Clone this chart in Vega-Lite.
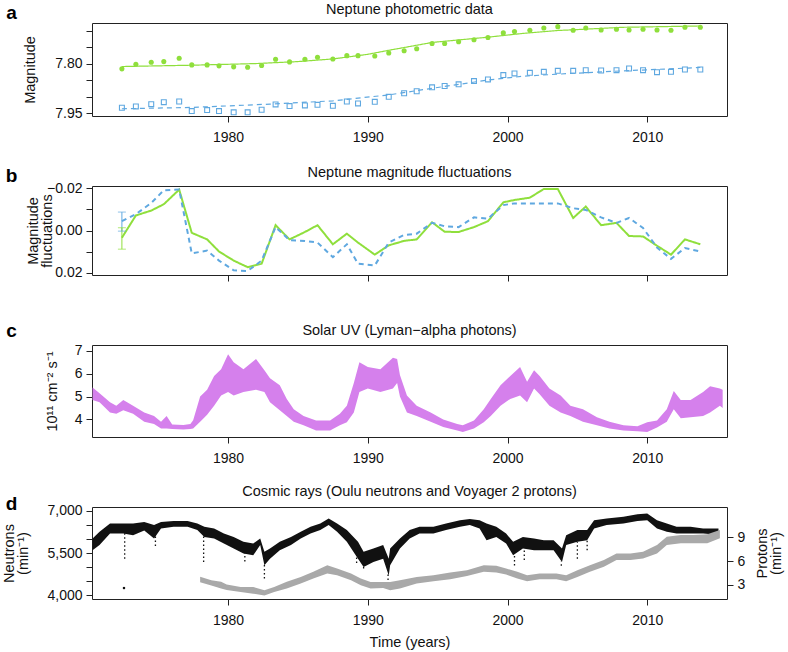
{
  "$schema": "https://vega.github.io/schema/vega-lite/v6.json",
  "autosize": {"type": "none"},
  "padding": {"left": 92, "top": 23, "right": 696, "bottom": 629},
  "background": "white",
  "config": {
    "font": "Liberation Sans",
    "view": {"stroke": "#222", "strokeWidth": 1},
    "axis": {
      "domain": false, "grid": false, "tickColor": "#222", "tickSize": 6,
      "labelFontSize": 14, "labelColor": "#111", "labelPadding": 4,
      "titleFontSize": 14.5, "titleFontWeight": "normal", "titleColor": "#111"
    },
    "axisX": {"labelPadding": 8}
  },
  "datasets": {
    "phot": [
      {"yr": 1972.4, "s": "g", "mag": 7.815, "fl": 0.0034}, {"yr": 1973.4, "s": "g", "mag": 7.801, "fl": -0.0071},
      {"yr": 1974.5, "s": "g", "mag": 7.795, "fl": -0.0094}, {"yr": 1975.4, "s": "g", "mag": 7.793, "fl": -0.0124},
      {"yr": 1976.5, "s": "g", "mag": 7.783, "fl": -0.0193}, {"yr": 1977.4, "s": "g", "mag": 7.803, "fl": 0.0011},
      {"yr": 1978.5, "s": "g", "mag": 7.803, "fl": 0.0042}, {"yr": 1979.35, "s": "g", "mag": 7.806, "fl": 0.0099},
      {"yr": 1980.4, "s": "g", "mag": 7.809, "fl": 0.0142}, {"yr": 1981.4, "s": "g", "mag": 7.810, "fl": 0.0173},
      {"yr": 1982.4, "s": "g", "mag": 7.805, "fl": 0.0157}, {"yr": 1983.4, "s": "g", "mag": 7.786, "fl": -0.0025},
      {"yr": 1984.4, "s": "g", "mag": 7.794, "fl": 0.0042}, {"yr": 1985.5, "s": "g", "mag": 7.786, "fl": 0.0007},
      {"yr": 1986.4, "s": "g", "mag": 7.780, "fl": -0.0025}, {"yr": 1987.5, "s": "g", "mag": 7.785, "fl": 0.0065},
      {"yr": 1988.5, "s": "g", "mag": 7.775, "fl": 0.0015}, {"yr": 1989.3, "s": "g", "mag": 7.775, "fl": 0.0057},
      {"yr": 1990.5, "s": "g", "mag": 7.776, "fl": 0.0114}, {"yr": 1991.5, "s": "g", "mag": 7.767, "fl": 0.007},
      {"yr": 1992.6, "s": "g", "mag": 7.760, "fl": 0.0049}, {"yr": 1993.5, "s": "g", "mag": 7.754, "fl": 0.0042},
      {"yr": 1994.6, "s": "g", "mag": 7.738, "fl": -0.0039}, {"yr": 1995.5, "s": "g", "mag": 7.738, "fl": 0.0006},
      {"yr": 1996.5, "s": "g", "mag": 7.733, "fl": 0.0007}, {"yr": 1997.6, "s": "g", "mag": 7.727, "fl": -0.0016},
      {"yr": 1998.6, "s": "g", "mag": 7.720, "fl": -0.0044}, {"yr": 1999.7, "s": "g", "mag": 7.706, "fl": -0.0133},
      {"yr": 2000.5, "s": "g", "mag": 7.702, "fl": -0.0144}, {"yr": 2001.6, "s": "g", "mag": 7.698, "fl": -0.0155},
      {"yr": 2002.6, "s": "g", "mag": 7.691, "fl": -0.0196}, {"yr": 2003.6, "s": "g", "mag": 7.687, "fl": -0.0196},
      {"yr": 2004.7, "s": "g", "mag": 7.698, "fl": -0.0059}, {"yr": 2005.6, "s": "g", "mag": 7.691, "fl": -0.0113},
      {"yr": 2006.7, "s": "g", "mag": 7.697, "fl": -0.0025}, {"yr": 2007.8, "s": "g", "mag": 7.695, "fl": -0.0036},
      {"yr": 2008.7, "s": "g", "mag": 7.697, "fl": 0.0026}, {"yr": 2009.7, "s": "g", "mag": 7.695, "fl": 0.0028},
      {"yr": 2010.7, "s": "g", "mag": 7.697, "fl": 0.0072}, {"yr": 2011.7, "s": "g", "mag": 7.698, "fl": 0.0114},
      {"yr": 2012.7, "s": "g", "mag": 7.689, "fl": 0.0042}, {"yr": 2013.8, "s": "g", "mag": 7.689, "fl": 0.0065},
      {"yr": 1972.4, "s": "b", "mag": 7.933, "fl": -0.0044}, {"yr": 1973.4, "s": "b", "mag": 7.929, "fl": -0.0077},
      {"yr": 1974.5, "s": "b", "mag": 7.922, "fl": -0.013}, {"yr": 1975.4, "s": "b", "mag": 7.916, "fl": -0.019},
      {"yr": 1976.5, "s": "b", "mag": 7.914, "fl": -0.0193}, {"yr": 1977.4, "s": "b", "mag": 7.943, "fl": 0.0108},
      {"yr": 1978.5, "s": "b", "mag": 7.940, "fl": 0.0095}, {"yr": 1979.35, "s": "b", "mag": 7.943, "fl": 0.0142},
      {"yr": 1980.4, "s": "b", "mag": 7.947, "fl": 0.0188}, {"yr": 1981.4, "s": "b", "mag": 7.947, "fl": 0.0191},
      {"yr": 1982.4, "s": "b", "mag": 7.939, "fl": 0.0142}, {"yr": 1983.4, "s": "b", "mag": 7.923, "fl": -0.0016},
      {"yr": 1984.4, "s": "b", "mag": 7.928, "fl": 0.0046}, {"yr": 1985.5, "s": "b", "mag": 7.926, "fl": 0.0049},
      {"yr": 1986.4, "s": "b", "mag": 7.924, "fl": 0.0057}, {"yr": 1987.5, "s": "b", "mag": 7.927, "fl": 0.0126},
      {"yr": 1988.5, "s": "b", "mag": 7.914, "fl": 0.0065}, {"yr": 1989.3, "s": "b", "mag": 7.920, "fl": 0.0157},
      {"yr": 1990.5, "s": "b", "mag": 7.915, "fl": 0.0165}, {"yr": 1991.5, "s": "b", "mag": 7.900, "fl": 0.0057},
      {"yr": 1992.6, "s": "b", "mag": 7.889, "fl": 0.0021}, {"yr": 1993.5, "s": "b", "mag": 7.883, "fl": 0.0015},
      {"yr": 1994.6, "s": "b", "mag": 7.871, "fl": -0.0036}, {"yr": 1995.5, "s": "b", "mag": 7.867, "fl": -0.002},
      {"yr": 1996.5, "s": "b", "mag": 7.862, "fl": -0.0016}, {"yr": 1997.6, "s": "b", "mag": 7.852, "fl": -0.0062},
      {"yr": 1998.6, "s": "b", "mag": 7.847, "fl": -0.0056}, {"yr": 1999.7, "s": "b", "mag": 7.834, "fl": -0.012},
      {"yr": 2000.5, "s": "b", "mag": 7.829, "fl": -0.0128}, {"yr": 2001.6, "s": "b", "mag": 7.827, "fl": -0.0128},
      {"yr": 2002.6, "s": "b", "mag": 7.824, "fl": -0.0128}, {"yr": 2003.6, "s": "b", "mag": 7.821, "fl": -0.0128},
      {"yr": 2004.7, "s": "b", "mag": 7.821, "fl": -0.0105}, {"yr": 2005.6, "s": "b", "mag": 7.819, "fl": -0.0097},
      {"yr": 2006.7, "s": "b", "mag": 7.820, "fl": -0.0062}, {"yr": 2007.8, "s": "b", "mag": 7.819, "fl": -0.0036},
      {"yr": 2008.7, "s": "b", "mag": 7.814, "fl": -0.0059}, {"yr": 2009.7, "s": "b", "mag": 7.819, "fl": -0.0012},
      {"yr": 2010.7, "s": "b", "mag": 7.825, "fl": 0.008}, {"yr": 2011.7, "s": "b", "mag": 7.824, "fl": 0.0134},
      {"yr": 2012.7, "s": "b", "mag": 7.817, "fl": 0.0083}, {"yr": 2013.8, "s": "b", "mag": 7.817, "fl": 0.0099}
    ],
    "fit": [
      {"yr": 1972.4, "s": "g", "m": 7.808}, {"yr": 1977.4, "s": "g", "m": 7.804}, {"yr": 1982.0, "s": "g", "m": 7.799},
      {"yr": 1985.0, "s": "g", "m": 7.793}, {"yr": 1987.5, "s": "g", "m": 7.785}, {"yr": 1990.0, "s": "g", "m": 7.771},
      {"yr": 1991.6, "s": "g", "m": 7.758}, {"yr": 1994.6, "s": "g", "m": 7.735}, {"yr": 1998.6, "s": "g", "m": 7.719},
      {"yr": 2001.0, "s": "g", "m": 7.708}, {"yr": 2003.5, "s": "g", "m": 7.699}, {"yr": 2008.3, "s": "g", "m": 7.689},
      {"yr": 2013.8, "s": "g", "m": 7.685},
      {"yr": 1972.4, "s": "b", "m": 7.936}, {"yr": 1977.4, "s": "b", "m": 7.932}, {"yr": 1983.0, "s": "b", "m": 7.922},
      {"yr": 1987.5, "s": "b", "m": 7.912}, {"yr": 1991.5, "s": "b", "m": 7.894}, {"yr": 1994.6, "s": "b", "m": 7.874},
      {"yr": 1998.6, "s": "b", "m": 7.849}, {"yr": 2001.2, "s": "b", "m": 7.837}, {"yr": 2004.5, "s": "b", "m": 7.829},
      {"yr": 2008.3, "s": "b", "m": 7.821}, {"yr": 2013.8, "s": "b", "m": 7.811}
    ],
    "errs": [
      {"yr": 1972.4, "s": "b", "lo": -0.0087, "hi": 0.0003},
      {"yr": 1972.4, "s": "g", "lo": -0.0013, "hi": 0.0088}
    ],
    "uv": [
      {"yr": 1970.3, "lo": 4.85, "hi": 5.4}, {"yr": 1970.8, "lo": 4.75, "hi": 5.15}, {"yr": 1971.55, "lo": 4.3, "hi": 4.75},
      {"yr": 1972.0, "lo": 4.25, "hi": 4.6}, {"yr": 1972.5, "lo": 4.4, "hi": 4.85}, {"yr": 1973.2, "lo": 4.25, "hi": 4.6},
      {"yr": 1974.0, "lo": 3.9, "hi": 4.3}, {"yr": 1974.7, "lo": 3.8, "hi": 4.15}, {"yr": 1975.2, "lo": 3.6, "hi": 3.9},
      {"yr": 1975.6, "lo": 3.6, "hi": 4.15}, {"yr": 1976.0, "lo": 3.58, "hi": 3.78}, {"yr": 1976.8, "lo": 3.56, "hi": 3.76},
      {"yr": 1977.3, "lo": 3.58, "hi": 3.8}, {"yr": 1977.5, "lo": 3.6, "hi": 3.96}, {"yr": 1978.0, "lo": 3.9, "hi": 5.0},
      {"yr": 1978.5, "lo": 4.2, "hi": 5.3}, {"yr": 1979.0, "lo": 4.6, "hi": 5.9}, {"yr": 1979.5, "lo": 5.05, "hi": 6.2},
      {"yr": 1980.0, "lo": 5.2, "hi": 6.85}, {"yr": 1980.4, "lo": 5.05, "hi": 6.5}, {"yr": 1981.1, "lo": 5.2, "hi": 6.2},
      {"yr": 1982.0, "lo": 5.3, "hi": 6.65}, {"yr": 1982.6, "lo": 5.2, "hi": 6.15}, {"yr": 1983.0, "lo": 4.75, "hi": 5.8},
      {"yr": 1983.7, "lo": 4.4, "hi": 5.5}, {"yr": 1984.2, "lo": 4.15, "hi": 4.9}, {"yr": 1984.7, "lo": 3.9, "hi": 4.45},
      {"yr": 1985.4, "lo": 3.75, "hi": 4.15}, {"yr": 1986.3, "lo": 3.52, "hi": 3.95}, {"yr": 1987.3, "lo": 3.52, "hi": 3.95},
      {"yr": 1988.0, "lo": 3.75, "hi": 4.25}, {"yr": 1988.5, "lo": 3.88, "hi": 4.6}, {"yr": 1989.0, "lo": 4.3, "hi": 5.6},
      {"yr": 1989.4, "lo": 5.2, "hi": 6.5}, {"yr": 1990.0, "lo": 5.35, "hi": 6.3}, {"yr": 1990.9, "lo": 5.2, "hi": 6.2},
      {"yr": 1991.8, "lo": 5.35, "hi": 6.7}, {"yr": 1992.1, "lo": 5.6, "hi": 6.65}, {"yr": 1992.3, "lo": 5.0, "hi": 5.95},
      {"yr": 1992.8, "lo": 4.3, "hi": 5.05}, {"yr": 1993.5, "lo": 4.15, "hi": 4.6}, {"yr": 1994.5, "lo": 3.9, "hi": 4.3},
      {"yr": 1995.4, "lo": 3.67, "hi": 4.0}, {"yr": 1996.4, "lo": 3.52, "hi": 3.8}, {"yr": 1996.8, "lo": 3.45, "hi": 3.75},
      {"yr": 1997.6, "lo": 3.6, "hi": 3.95}, {"yr": 1998.3, "lo": 3.88, "hi": 4.45}, {"yr": 1998.8, "lo": 4.15, "hi": 4.9},
      {"yr": 1999.5, "lo": 4.6, "hi": 5.5}, {"yr": 2000.2, "lo": 4.9, "hi": 5.9}, {"yr": 2000.9, "lo": 5.05, "hi": 6.3},
      {"yr": 2001.4, "lo": 4.75, "hi": 5.65}, {"yr": 2001.9, "lo": 5.35, "hi": 6.15}, {"yr": 2002.3, "lo": 5.1, "hi": 5.9},
      {"yr": 2003.0, "lo": 4.6, "hi": 5.35}, {"yr": 2003.8, "lo": 4.3, "hi": 5.05}, {"yr": 2004.5, "lo": 4.15, "hi": 4.6},
      {"yr": 2005.4, "lo": 3.9, "hi": 4.45}, {"yr": 2006.4, "lo": 3.75, "hi": 4.1}, {"yr": 2007.3, "lo": 3.6, "hi": 3.9},
      {"yr": 2008.3, "lo": 3.52, "hi": 3.75}, {"yr": 2009.3, "lo": 3.48, "hi": 3.7}, {"yr": 2010.0, "lo": 3.45, "hi": 3.88},
      {"yr": 2010.7, "lo": 3.65, "hi": 3.95}, {"yr": 2011.4, "lo": 3.9, "hi": 4.45}, {"yr": 2011.9, "lo": 4.45, "hi": 5.25},
      {"yr": 2012.4, "lo": 4.05, "hi": 4.85}, {"yr": 2013.1, "lo": 4.1, "hi": 4.85}, {"yr": 2014.0, "lo": 4.15, "hi": 5.2},
      {"yr": 2014.5, "lo": 4.3, "hi": 5.45}, {"yr": 2015.2, "lo": 4.6, "hi": 5.35}, {"yr": 2015.4, "lo": 4.5, "hi": 5.3}
    ],
    "neut": [
      {"yr": 1970.3, "lo": 5600, "hi": 6010}, {"yr": 1970.8, "lo": 5780, "hi": 6250}, {"yr": 1971.55, "lo": 6190, "hi": 6545},
      {"yr": 1972.5, "lo": 6190, "hi": 6545}, {"yr": 1973.2, "lo": 6130, "hi": 6545}, {"yr": 1974.0, "lo": 6300, "hi": 6600},
      {"yr": 1974.7, "lo": 6010, "hi": 6490}, {"yr": 1975.2, "lo": 6370, "hi": 6600}, {"yr": 1976.1, "lo": 6430, "hi": 6630},
      {"yr": 1977.1, "lo": 6430, "hi": 6630}, {"yr": 1977.8, "lo": 6310, "hi": 6545}, {"yr": 1978.3, "lo": 6070, "hi": 6430},
      {"yr": 1979.0, "lo": 6010, "hi": 6370}, {"yr": 1979.7, "lo": 5835, "hi": 6190}, {"yr": 1980.4, "lo": 5660, "hi": 6070},
      {"yr": 1981.1, "lo": 5480, "hi": 5895}, {"yr": 1981.8, "lo": 5420, "hi": 5835}, {"yr": 1982.3, "lo": 5780, "hi": 6010},
      {"yr": 1982.6, "lo": 5065, "hi": 5540}, {"yr": 1983.0, "lo": 5300, "hi": 5660}, {"yr": 1983.7, "lo": 5600, "hi": 5895},
      {"yr": 1984.5, "lo": 5780, "hi": 6070}, {"yr": 1985.2, "lo": 6010, "hi": 6250}, {"yr": 1985.9, "lo": 6190, "hi": 6430},
      {"yr": 1986.6, "lo": 6310, "hi": 6545}, {"yr": 1987.2, "lo": 6490, "hi": 6720}, {"yr": 1987.8, "lo": 6250, "hi": 6545},
      {"yr": 1988.5, "lo": 5895, "hi": 6310}, {"yr": 1989.3, "lo": 5300, "hi": 5895}, {"yr": 1989.7, "lo": 5005, "hi": 5540},
      {"yr": 1990.4, "lo": 5185, "hi": 5660}, {"yr": 1991.1, "lo": 5300, "hi": 5780}, {"yr": 1991.5, "lo": 4700, "hi": 5300},
      {"yr": 1991.6, "lo": 5065, "hi": 5660}, {"yr": 1992.3, "lo": 5660, "hi": 6010}, {"yr": 1993.0, "lo": 6010, "hi": 6310},
      {"yr": 1993.7, "lo": 6190, "hi": 6430}, {"yr": 1994.7, "lo": 6190, "hi": 6430}, {"yr": 1995.6, "lo": 6310, "hi": 6545},
      {"yr": 1996.6, "lo": 6430, "hi": 6660}, {"yr": 1997.3, "lo": 6490, "hi": 6700}, {"yr": 1998.0, "lo": 6370, "hi": 6660},
      {"yr": 1998.5, "lo": 5950, "hi": 6545}, {"yr": 1999.2, "lo": 6070, "hi": 6430}, {"yr": 1999.9, "lo": 5835, "hi": 6190},
      {"yr": 2000.4, "lo": 5420, "hi": 5895}, {"yr": 2001.1, "lo": 5660, "hi": 6070}, {"yr": 2001.9, "lo": 5600, "hi": 6010},
      {"yr": 2002.6, "lo": 5600, "hi": 5950}, {"yr": 2003.3, "lo": 5600, "hi": 5950}, {"yr": 2003.9, "lo": 5185, "hi": 5660},
      {"yr": 2004.2, "lo": 5780, "hi": 6130}, {"yr": 2005.0, "lo": 5895, "hi": 6310}, {"yr": 2005.7, "lo": 5950, "hi": 6310},
      {"yr": 2006.2, "lo": 6370, "hi": 6660}, {"yr": 2007.1, "lo": 6490, "hi": 6720}, {"yr": 2008.3, "lo": 6545, "hi": 6780},
      {"yr": 2009.3, "lo": 6630, "hi": 6870}, {"yr": 2010.0, "lo": 6660, "hi": 6900}, {"yr": 2010.7, "lo": 6370, "hi": 6660},
      {"yr": 2011.4, "lo": 6250, "hi": 6545}, {"yr": 2012.1, "lo": 6190, "hi": 6430}, {"yr": 2013.1, "lo": 6190, "hi": 6430},
      {"yr": 2014.0, "lo": 6190, "hi": 6370}, {"yr": 2015.1, "lo": 6150, "hi": 6370}
    ],
    "ndip": [
      {"yr": 1972.6, "lo": 5300, "hi": 6200}, {"yr": 1974.8, "lo": 5750, "hi": 6100}, {"yr": 1978.25, "lo": 5180, "hi": 6100},
      {"yr": 1981.2, "lo": 5200, "hi": 5500}, {"yr": 1982.6, "lo": 4600, "hi": 5100}, {"yr": 1989.2, "lo": 5150, "hi": 5350},
      {"yr": 1989.7, "lo": 4950, "hi": 5100}, {"yr": 1991.45, "lo": 4400, "hi": 4750}, {"yr": 2000.5, "lo": 5060, "hi": 5450},
      {"yr": 2001.2, "lo": 5250, "hi": 5650}, {"yr": 2003.85, "lo": 5050, "hi": 5200}, {"yr": 2005.0, "lo": 5300, "hi": 5900},
      {"yr": 2005.7, "lo": 5600, "hi": 5950}
    ],
    "nout": [{"yr": 1972.55, "v": 4260}],
    "prot": [
      {"yr": 1978.0, "lo": 3.3, "hi": 4.0}, {"yr": 1978.8, "lo": 2.9, "hi": 3.55}, {"yr": 1979.5, "lo": 2.5, "hi": 3.35},
      {"yr": 1979.9, "lo": 2.3, "hi": 3.0}, {"yr": 1980.9, "lo": 2.06, "hi": 2.7}, {"yr": 1981.8, "lo": 1.85, "hi": 2.7},
      {"yr": 1982.6, "lo": 1.63, "hi": 2.27}, {"yr": 1983.3, "lo": 2.06, "hi": 2.7}, {"yr": 1984.2, "lo": 2.5, "hi": 3.35},
      {"yr": 1985.2, "lo": 3.13, "hi": 3.98}, {"yr": 1986.1, "lo": 3.77, "hi": 4.62}, {"yr": 1987.1, "lo": 4.41, "hi": 5.47},
      {"yr": 1987.8, "lo": 4.2, "hi": 5.05}, {"yr": 1988.8, "lo": 3.55, "hi": 4.41}, {"yr": 1989.5, "lo": 2.91, "hi": 3.77},
      {"yr": 1990.2, "lo": 2.5, "hi": 3.34}, {"yr": 1991.1, "lo": 2.57, "hi": 3.34}, {"yr": 1991.6, "lo": 2.27, "hi": 3.34},
      {"yr": 1992.3, "lo": 2.49, "hi": 3.55}, {"yr": 1993.5, "lo": 3.13, "hi": 3.98}, {"yr": 1994.7, "lo": 3.43, "hi": 4.2},
      {"yr": 1995.9, "lo": 3.68, "hi": 4.54}, {"yr": 1997.1, "lo": 4.11, "hi": 4.83}, {"yr": 1998.3, "lo": 4.62, "hi": 5.47},
      {"yr": 1999.2, "lo": 4.54, "hi": 5.39}, {"yr": 1999.9, "lo": 4.28, "hi": 5.05}, {"yr": 2000.7, "lo": 3.77, "hi": 4.62},
      {"yr": 2001.4, "lo": 3.43, "hi": 4.2}, {"yr": 2002.3, "lo": 3.68, "hi": 4.41}, {"yr": 2003.5, "lo": 3.68, "hi": 4.41},
      {"yr": 2004.2, "lo": 3.43, "hi": 4.2}, {"yr": 2005.0, "lo": 3.98, "hi": 4.83}, {"yr": 2005.9, "lo": 4.62, "hi": 5.47},
      {"yr": 2006.9, "lo": 5.26, "hi": 6.12}, {"yr": 2007.8, "lo": 6.12, "hi": 6.97}, {"yr": 2008.8, "lo": 6.12, "hi": 6.97},
      {"yr": 2009.7, "lo": 6.33, "hi": 7.18}, {"yr": 2010.7, "lo": 6.97, "hi": 8.03}, {"yr": 2011.4, "lo": 8.03, "hi": 9.09},
      {"yr": 2012.4, "lo": 8.25, "hi": 9.3}, {"yr": 2013.3, "lo": 8.25, "hi": 9.3}, {"yr": 2014.3, "lo": 8.25, "hi": 9.4},
      {"yr": 2015.2, "lo": 8.9, "hi": 9.95}
    ]
  },
  "vconcat": [
    {
      "width": 635, "height": 93,
      "data": {"name": "phot"},
      "encoding": {
        "x": {"field": "yr", "type": "quantitative", "scale": {"domain": [1970.26, 2015.71], "nice": false, "zero": false},
              "axis": {"values": [1980, 1990, 2000, 2010], "format": "d", "title": null}},
        "y": {"field": "mag", "type": "quantitative", "scale": {"domain": [7.676, 7.958], "reverse": true, "nice": false, "zero": false},
              "axis": {"values": [7.7, 7.75, 7.8, 7.85, 7.9, 7.95],
                       "labelExpr": "abs(datum.value - 7.8) < 0.001 || abs(datum.value - 7.95) < 0.001 ? format(datum.value, '.2f') : ''",
                       "title": "Magnitude", "titleX": -62, "titleY": 46.5, "titleBaseline": "middle", "titleAlign": "center", "titleAngle": 270}}
      },
      "layer": [
        {
          "data": {"name": "fit"},
          "mark": {"type": "line", "strokeWidth": 1.2},
          "encoding": {
            "y": {"field": "m", "type": "quantitative"},
            "color": {"field": "s", "type": "nominal", "scale": {"domain": ["g", "b"], "range": ["#8fdf3c", "#5fa8e0"]}, "legend": null},
            "strokeDash": {"field": "s", "type": "nominal", "scale": {"domain": ["g", "b"], "range": [[1, 0], [5, 4]]}, "legend": null}
          }
        },
        {
          "transform": [{"filter": "datum.s == 'g'"}],
          "mark": {"type": "circle", "size": 26, "color": "#8fdf3c", "opacity": 1}
        },
        {
          "transform": [{"filter": "datum.s == 'b'"}],
          "mark": {"type": "point", "shape": "square", "filled": false, "size": 24, "strokeWidth": 1.1, "color": "#5fa8e0", "opacity": 1}
        },
        {
          "data": {"values": [{"yr": 1964.5, "v": 7.6624, "t": "a"}]},
          "mark": {"type": "text", "fontSize": 19, "fontWeight": "bold", "align": "center", "baseline": "alphabetic", "color": "#000", "clip": false},
          "encoding": {"y": {"field": "v", "type": "quantitative"}, "text": {"field": "t", "type": "nominal"}}
        },
        {
          "data": {"values": [{"yr": 1992.985, "v": 7.6487, "t": "Neptune photometric data"}]},
          "mark": {"type": "text", "fontSize": 14.5, "align": "center", "baseline": "alphabetic", "color": "#111", "clip": false},
          "encoding": {"y": {"field": "v", "type": "quantitative"}, "text": {"field": "t", "type": "nominal"}}
        }
      ]
    },
    {
      "width": 635, "height": 89,
      "encoding": {
        "x": {"field": "yr", "type": "quantitative", "scale": {"domain": [1970.26, 2015.71], "nice": false, "zero": false},
              "axis": {"values": [1980, 1990, 2000, 2010], "labels": false, "title": null}},
        "y": {"field": "fl", "type": "quantitative", "scale": {"domain": [-0.021, 0.021], "reverse": true, "nice": false, "zero": false},
              "axis": {"values": [-0.02, -0.01, 0, 0.01, 0.02],
                       "labelExpr": "abs(datum.value) < 0.001 || abs(abs(datum.value) - 0.02) < 0.001 ? format(datum.value, '.2f') : ''",
                       "title": ["Magnitude", "fluctuations"], "titleX": -59, "titleY": 44.5, "titleBaseline": "middle", "titleAlign": "center", "titleAngle": 270, "titleLineHeight": 14}}
      },
      "layer": [
        {
          "data": {"name": "phot"},
          "mark": {"type": "line", "strokeWidth": 2},
          "encoding": {
            "color": {"field": "s", "type": "nominal", "scale": {"domain": ["g", "b"], "range": ["#8fdf3c", "#5fa8e0"]}, "legend": null},
            "strokeDash": {"field": "s", "type": "nominal", "scale": {"domain": ["g", "b"], "range": [[1, 0], [6, 4]]}, "legend": null}
          }
        },
        {
          "data": {"name": "errs"},
          "mark": {"type": "rule", "strokeWidth": 1},
          "encoding": {
            "y": {"field": "lo", "type": "quantitative"}, "y2": {"field": "hi"},
            "color": {"field": "s", "type": "nominal", "scale": {"domain": ["g", "b"], "range": ["#8fdf3c", "#5fa8e0"]}, "legend": null}
          }
        },
        {
          "data": {"name": "errs"},
          "mark": {"type": "tick", "orient": "horizontal", "size": 8, "thickness": 1},
          "encoding": {
            "y": {"field": "lo", "type": "quantitative"},
            "color": {"field": "s", "type": "nominal", "scale": {"domain": ["g", "b"], "range": ["#8fdf3c", "#5fa8e0"]}, "legend": null}
          }
        },
        {
          "data": {"name": "errs"},
          "mark": {"type": "tick", "orient": "horizontal", "size": 8, "thickness": 1},
          "encoding": {
            "y": {"field": "hi", "type": "quantitative"},
            "color": {"field": "s", "type": "nominal", "scale": {"domain": ["g", "b"], "range": ["#8fdf3c", "#5fa8e0"]}, "legend": null}
          }
        },
        {
          "data": {"values": [{"yr": 1964.5, "v": -0.023, "t": "b"}]},
          "mark": {"type": "text", "fontSize": 19, "fontWeight": "bold", "align": "center", "baseline": "alphabetic", "color": "#000", "clip": false},
          "encoding": {"y": {"field": "v", "type": "quantitative"}, "text": {"field": "t", "type": "nominal"}}
        },
        {
          "data": {"values": [{"yr": 1992.985, "v": -0.0254, "t": "Neptune magnitude fluctuations"}]},
          "mark": {"type": "text", "fontSize": 14.5, "align": "center", "baseline": "alphabetic", "color": "#111", "clip": false},
          "encoding": {"y": {"field": "v", "type": "quantitative"}, "text": {"field": "t", "type": "nominal"}}
        }
      ]
    },
    {
      "width": 635, "height": 92,
      "encoding": {
        "x": {"field": "yr", "type": "quantitative", "scale": {"domain": [1970.26, 2015.71], "nice": false, "zero": false},
              "axis": {"values": [1980, 1990, 2000, 2010], "format": "d", "title": null}},
        "y": {"field": "lo", "type": "quantitative", "scale": {"domain": [3.23, 7.26], "nice": false, "zero": false},
              "axis": {"values": [4, 5, 6, 7], "title": "10¹¹ cm⁻² s⁻¹", "titleX": -39.5, "titleY": 46, "titleBaseline": "middle", "titleAlign": "center", "titleAngle": 270}}
      },
      "layer": [
        {
          "data": {"name": "uv"},
          "mark": {"type": "area", "color": "#d580ec", "opacity": 1},
          "encoding": {"y2": {"field": "hi"}}
        },
        {
          "data": {"values": [{"yr": 1964.5, "v": 7.624, "t": "c"}]},
          "mark": {"type": "text", "fontSize": 19, "fontWeight": "bold", "align": "center", "baseline": "alphabetic", "color": "#000", "clip": false},
          "encoding": {"y": {"field": "v", "type": "quantitative"}, "text": {"field": "t", "type": "nominal"}}
        },
        {
          "data": {"values": [{"yr": 1992.985, "v": 7.698, "t": "Solar UV (Lyman−alpha photons)"}]},
          "mark": {"type": "text", "fontSize": 14.5, "align": "center", "baseline": "alphabetic", "color": "#111", "clip": false},
          "encoding": {"y": {"field": "v", "type": "quantitative"}, "text": {"field": "t", "type": "nominal"}}
        }
      ]
    },
    {
      "width": 635, "height": 92,
      "encoding": {
        "x": {"field": "yr", "type": "quantitative", "scale": {"domain": [1970.26, 2015.71], "nice": false, "zero": false},
              "axis": {"values": [1980, 1990, 2000, 2010], "format": "d", "title": "Time (years)", "titlePadding": 8}}
      },
      "layer": [
        {
          "encoding": {
            "y": {"field": "lo", "type": "quantitative", "scale": {"domain": [3872, 7128], "nice": false, "zero": false},
                  "axis": {"values": [4000, 4500, 5000, 5500, 6000, 6500, 7000],
                           "labelExpr": "datum.value == 4000 || datum.value == 5500 || datum.value == 7000 ? format(datum.value, ',') : ''",
                           "title": ["Neutrons", "(min⁻¹)"], "titleX": -83, "titleY": 46, "titleBaseline": "middle", "titleAlign": "center", "titleAngle": 270, "titleLineHeight": 14}}
          },
          "layer": [
            {
              "data": {"name": "neut"},
              "mark": {"type": "area", "color": "#111", "opacity": 1},
              "encoding": {"y2": {"field": "hi"}}
            },
            {
              "data": {"name": "ndip"},
              "mark": {"type": "rule", "color": "#111", "strokeWidth": 1.3, "strokeDash": [1.5, 2.5]},
              "encoding": {"y2": {"field": "hi"}}
            },
            {
              "data": {"name": "nout"},
              "mark": {"type": "square", "color": "#111", "size": 5, "opacity": 1},
              "encoding": {"y": {"field": "v", "type": "quantitative"}}
            },
            {
              "data": {"values": [{"yr": 1964.5, "v": 7022, "t": "d"}]},
              "mark": {"type": "text", "fontSize": 19, "fontWeight": "bold", "align": "center", "baseline": "alphabetic", "color": "#000", "clip": false},
              "encoding": {"y": {"field": "v", "type": "quantitative"}, "text": {"field": "t", "type": "nominal"}}
            },
            {
              "data": {"values": [{"yr": 1992.985, "v": 7517, "t": "Cosmic rays (Oulu neutrons and Voyager 2 protons)"}]},
              "mark": {"type": "text", "fontSize": 14.5, "align": "center", "baseline": "alphabetic", "color": "#111", "clip": false},
              "encoding": {"y": {"field": "v", "type": "quantitative"}, "text": {"field": "t", "type": "nominal"}}
            }
          ]
        },
        {
          "data": {"name": "prot"},
          "mark": {"type": "area", "color": "#a9a9a9", "opacity": 1},
          "encoding": {
            "y": {"field": "lo", "type": "quantitative", "scale": {"domain": [1.17, 12.87], "nice": false, "zero": false},
                  "axis": {"orient": "right", "values": [3, 6, 9], "title": ["Protons", "(min⁻¹)"], "titleX": 35.5, "titleY": 46,
                           "titleBaseline": "middle", "titleAlign": "center", "titleAngle": 270, "titleLineHeight": 14}},
            "y2": {"field": "hi"}
          }
        }
      ],
      "resolve": {"scale": {"y": "independent"}, "axis": {"y": "independent"}}
    }
  ],
  "spacing": 70,
  "bounds": "flush"
}
